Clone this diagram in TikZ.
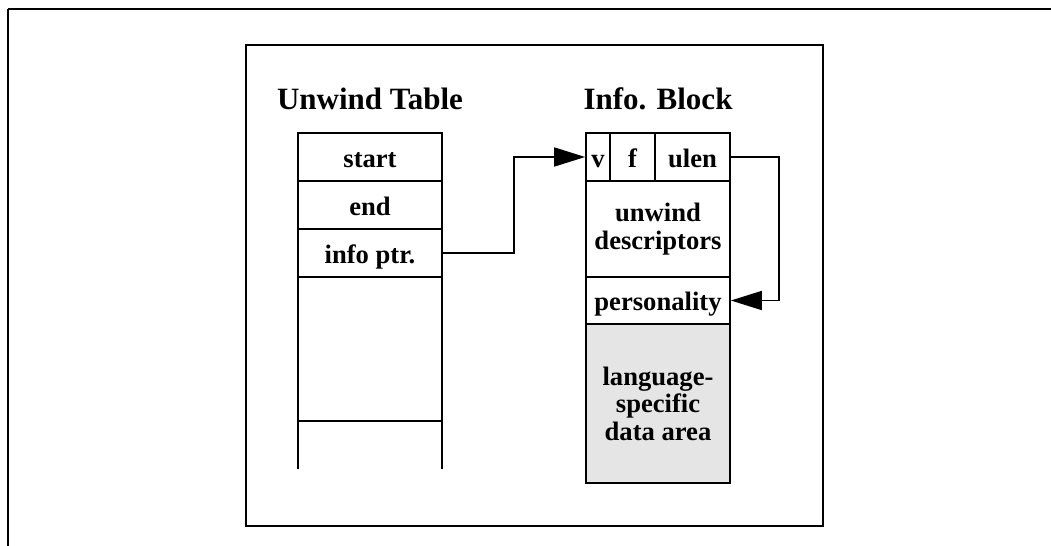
\documentclass[tikz,border=0pt]{standalone}
\usepackage{fontspec}
\setmainfont{Liberation Serif}
\usetikzlibrary{arrows.meta}
\tikzset{
  cell/.style={draw, line width=0.85pt, inner sep=0pt, font=\fontsize{13.3}{13.8}\selectfont\bfseries, align=center},
  oneline/.style={text height=10.5pt, text depth=0.5pt},
  title/.style={anchor=base, inner sep=0pt, font=\fontsize{15.5}{16}\selectfont\bfseries},
  conn/.style={line width=0.85pt, -{Triangle[length=15.5pt,width=9.5pt]}},
  frame/.style={line width=1.1pt},
}
\begin{document}
\begin{tikzpicture}[x=0.5pt, y=-0.5pt]
  \useasboundingbox (0,0) rectangle (1051,546);
  % page frame: top and left edges only
  \draw[frame] (8,9) -- (1051,9);
  \draw[frame] (8,9) -- (8,546);
  % figure frame
  \draw[frame] (246,45) rectangle (823,526);

  % titles
  \node[title] (ttab) at (370,109) {Unwind Table};
  \node[title] (tinfo) at (658,109) {Info. Block};

  % unwind table
  \node[cell, oneline, minimum width=72pt, minimum height=24pt] (start) at (370,157) {start};
  \node[cell, oneline, minimum width=72pt, minimum height=24pt] (end) at (370,205) {end};
  \node[cell, oneline, minimum width=72pt, minimum height=24pt] (infoptr) at (370,253) {info ptr.};
  \draw[line width=0.85pt] (298,277) -- (298,469);
  \draw[line width=0.85pt] (442,277) -- (442,469);
  \draw[line width=0.85pt] (298,421) -- (442,421);

  % info block
  \node[cell, oneline, minimum width=12pt, minimum height=24pt] (v) at (598,157) {v};
  \node[cell, oneline, minimum width=22.5pt, minimum height=24pt] (f) at (632.5,157) {f};
  \node[cell, oneline, minimum width=37.5pt, minimum height=24pt] (ulen) at (692.5,157) {ulen};
  \node[cell, minimum width=72pt, minimum height=48pt] (udesc) at (658,229) {unwind\\descriptors};
  \node[cell, oneline, minimum width=72pt, minimum height=23.5pt] (pers) at (658,300.5) {personality};
  \node[cell, fill={rgb,255:red,229;green,229;blue,229}, minimum width=72pt, minimum height=79.5pt] (lsda) at (658,403.5) {language-\\specific\\data area};

  % connectors
  \draw[conn] (infoptr.east) -- ++(71,0) |- (v.west);
  \draw[conn] (ulen.east) -- ++(48,0) |- (pers.east);
\end{tikzpicture}
\end{document}
